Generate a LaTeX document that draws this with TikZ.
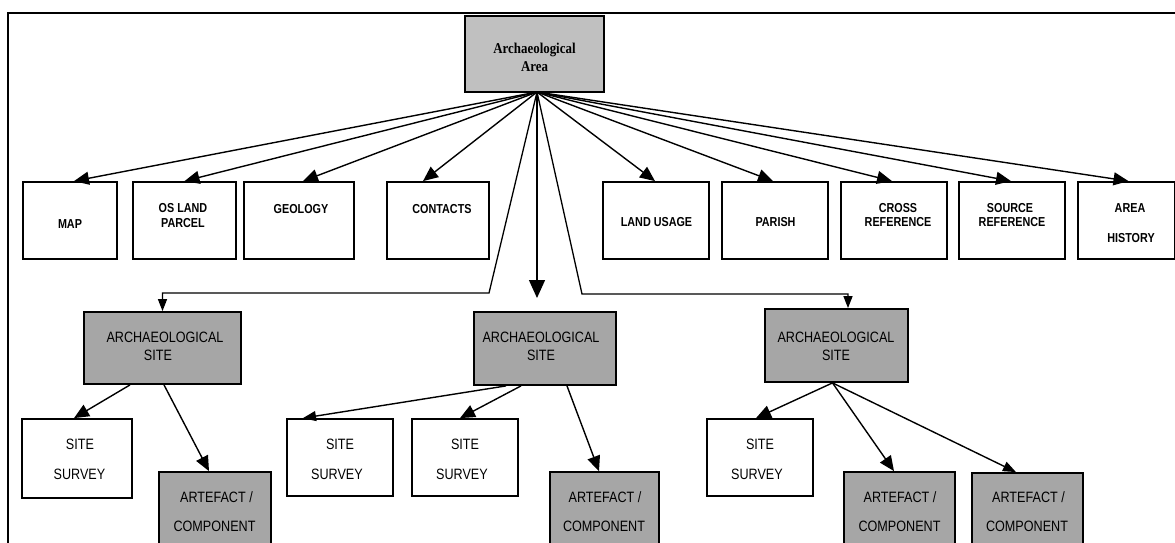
\documentclass[tikz,border=0pt]{standalone}
\usepackage{fontspec}
\setmainfont{Liberation Serif}
\setsansfont{Liberation Sans}
\newfontfamily\nsans{Liberation Sans}[FakeStretch=0.84]
\newfontfamily\nsansb{Liberation Sans}[FakeStretch=0.83]
\newfontfamily\nserif{Liberation Serif}[FakeStretch=0.86]
\usetikzlibrary{arrows.meta}
\definecolor{topgray}{RGB}{192,192,192}
\definecolor{sitegray}{RGB}{166,166,166}
\tikzset{
  box/.style={draw, line width=1.8pt, inner sep=0pt, fill=white},
  topbox/.style={box, fill=topgray, line width=2.2pt},
  sitebox/.style={box, fill=sitegray},
  r1/.style={box, minimum height=77pt},
  t0/.style={font=\nserif\bfseries\fontsize{15}{17}\selectfont, inner sep=0pt, anchor=base},
  t1/.style={font=\nsansb\bfseries\fontsize{13}{15}\selectfont, inner sep=0pt, anchor=base},
  t2/.style={font=\nsans\fontsize{15}{17}\selectfont, inner sep=0pt, anchor=base},
  arr/.style={line width=1.4pt, -{Triangle[length=15pt,width=13pt]}},
  arrs/.style={line width=1.3pt, -{Triangle[length=12pt,width=9pt]}},
  arrm/.style={line width=1.4pt, -{Triangle[length=13pt,width=10pt]}},
}
\begin{document}
\begin{tikzpicture}[x=1pt,y=-1pt]
\useasboundingbox (0,0) rectangle (1175,542);
\clip (0,0) rectangle (1175,542);
% frame
\draw[line width=2.4pt] (8,600) -- (8,13) -- (1200,13);

% top box
\node[topbox, minimum width=139pt, minimum height=76pt] (top) at (534.5,54) {};
\node[t0] (topt1) at (534.5,53) {Archaeological};
\node[t0] (topt2) at (534.5,71) {Area};
\coordinate (o) at (537,92);

% row 1
\node[r1, minimum width=94pt]  (map)    at (70,220.5) {};
\node[r1, minimum width=103pt] (os)     at (184.5,220.5) {};
\node[r1, minimum width=110pt] (geo)    at (299,220.5) {};
\node[r1, minimum width=102pt] (con)    at (438,220.5) {};
\node[r1, minimum width=106pt] (land)   at (656,220.5) {};
\node[r1, minimum width=106pt] (parish) at (775,220.5) {};
\node[r1, minimum width=106pt] (cross)  at (894,220.5) {};
\node[r1, minimum width=106pt] (source) at (1012,220.5) {};
\node[r1, minimum width=97pt]  (area)   at (1126.5,220.5) {};

\node[t1] (mapt)  at (70,228) {MAP};
\node[t1] (ost1)  at (183,212) {OS LAND};
\node[t1] (ost2)  at (183,227) {PARCEL};
\node[t1] (geot)  at (301,213) {GEOLOGY};
\node[t1] (cont)  at (442,213) {CONTACTS};
\node[t1] (landt) at (656.5,226.5) {LAND USAGE};
\node[t1] (part)  at (775.5,226.5) {PARISH};
\node[t1] (crt1)  at (898,212) {CROSS};
\node[t1] (crt2)  at (898,226.5) {REFERENCE};
\node[t1] (sot1)  at (1010,212) {SOURCE};
\node[t1] (sot2)  at (1012,226.5) {REFERENCE};
\node[t1] (art1)  at (1130,212) {AREA};
\node[t1] (art2)  at (1131,242) {HISTORY};

\draw[arr] (o) -- ([xshift=4pt]map.north);
\draw[arr] (o) -- ([xshift=0pt]os.north);
\draw[arr] (o) -- ([xshift=4pt]geo.north);
\draw[arr] (o) -- ([xshift=-15pt]con.north);
\draw[arr] (o) -- ([xshift=-1pt]land.north);
\draw[arr] (o) -- ([xshift=-2pt]parish.north);
\draw[arr] (o) -- ([xshift=-2pt]cross.north);
\draw[arr] (o) -- ([xshift=-1pt]source.north);
\draw[arr] (o) -- ([xshift=2pt]area.north);

% row 2
\node[sitebox, minimum width=157pt, minimum height=72pt] (lsite) at (162.5,348) {};
\node[sitebox, minimum width=142pt, minimum height=73pt] (msite) at (545,348.5) {};
\node[sitebox, minimum width=143pt, minimum height=73pt] (rsite) at (836.5,345.5) {};
\node[t2] (ls1) at (165,342.5) {ARCHAEOLOGICAL};
\node[t2] (ls2) at (158,360.5) {SITE};
\node[t2] (ms1) at (541,342.5) {ARCHAEOLOGICAL};
\node[t2] (ms2) at (541,360.5) {SITE};
\node[t2] (rs1) at (836,342.5) {ARCHAEOLOGICAL};
\node[t2] (rs2) at (836,360.5) {SITE};

\coordinate (mtip) at (537,298);
\draw[line width=1.4pt, -{Triangle[length=18pt,width=16pt]}] (o) -- (mtip);
\coordinate (lbend) at (489,293);
\draw[arrs] (o) -- (lbend) -- (lsite.north |- lbend) -- (lsite.north);
\coordinate (rbend) at (582,294);
\coordinate (rtop) at ([xshift=11.5pt]rsite.north);
\draw[arrs] (o) -- (rbend) -- (rtop |- rbend) -- (rtop);

% row 3
\node[box, minimum width=110pt, minimum height=79pt] (s1) at (77,458.5) {};
\node[sitebox, minimum width=112pt, minimum height=80pt] (a1) at (215,512) {};
\node[box, minimum width=106pt, minimum height=77pt] (s2) at (340,457.5) {};
\node[box, minimum width=106pt, minimum height=77pt] (s3) at (465,457.5) {};
\node[sitebox, minimum width=109pt, minimum height=80pt] (a2) at (604.5,512) {};
\node[box, minimum width=106pt, minimum height=77pt] (s4) at (760,457.5) {};
\node[sitebox, minimum width=111pt, minimum height=80pt] (a3) at (899.5,512) {};
\node[sitebox, minimum width=111pt, minimum height=80pt] (a4) at (1027.5,513) {};

\node[t2] (s1a) at (80,449.5) {SITE};
\node[t2] (s1b) at (79.5,479.5) {SURVEY};
\node[t2] (s2a) at (340,449.5) {SITE};
\node[t2] (s2b) at (337,479.5) {SURVEY};
\node[t2] (s3a) at (465,449.5) {SITE};
\node[t2] (s3b) at (462,479.5) {SURVEY};
\node[t2] (s4a) at (760,449.5) {SITE};
\node[t2] (s4b) at (757,479.5) {SURVEY};
\node[t2] (a1a) at (216.5,502.5) {ARTEFACT /};
\node[t2] (a1b) at (214.5,531.5) {COMPONENT};
\node[t2] (a2a) at (605,502.5) {ARTEFACT /};
\node[t2] (a2b) at (604,531.5) {COMPONENT};
\node[t2] (a3a) at (900,502.5) {ARTEFACT /};
\node[t2] (a3b) at (899.5,531.5) {COMPONENT};
\node[t2] (a4a) at (1028.5,502.5) {ARTEFACT /};
\node[t2] (a4b) at (1027,531.5) {COMPONENT};

\draw[arr] ([xshift=-32.5pt]lsite.south) -- ([xshift=-3pt]s1.north);
\draw[arr] ([xshift=1.5pt]lsite.south) -- ([xshift=-6pt]a1.north);
\draw[arrm] ([xshift=-39pt]msite.south) -- ([xshift=-37pt]s2.north);
\draw[arr] ([xshift=-24pt]msite.south) -- ([xshift=-5pt]s3.north);
\draw[arr] ([xshift=22pt]msite.south) -- ([xshift=-5.5pt]a2.north);
\draw[arr] ([xshift=-4pt]rsite.south) -- ([xshift=-4pt]s4.north);
\draw[arr] ([xshift=-4pt]rsite.south) -- ([xshift=-5.5pt]a3.north);
\draw[arrm] ([xshift=-4pt]rsite.south) -- ([xshift=-11.5pt]a4.north);
\end{tikzpicture}
\end{document}
